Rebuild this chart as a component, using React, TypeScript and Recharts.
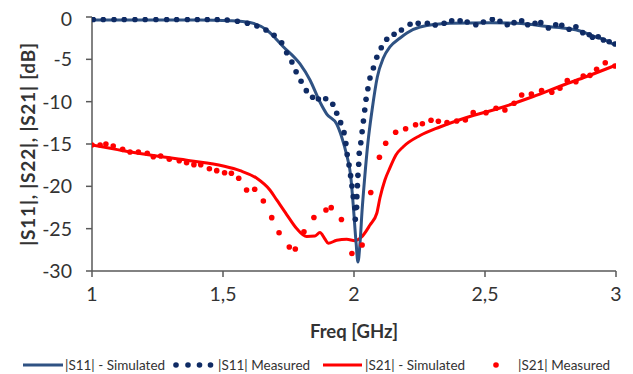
import React from "react";
import {
  ComposedChart,
  Line,
  Scatter,
  XAxis,
  YAxis,
  Legend,
  Label,
} from "recharts";

// ---------- data ----------
const xTicks = [1, 1.5, 2, 2.5, 3];
const yTicks = [-30, -25, -20, -15, -10, -5, 0];

const seriesNames = [
  "|S11| - Simulated",
  "|S11| Measured",
  "|S21| - Simulated",
  "|S21| Measured",
];

const s11SimX = [1.0, 1.221, 1.412, 1.527, 1.603, 1.667, 1.73, 1.794, 1.832, 1.87, 1.896, 1.934, 1.953, 1.972, 1.987, 1.997, 2.008, 2.015, 2.023, 2.031, 2.041, 2.053, 2.069, 2.089, 2.112, 2.137, 2.176, 2.202, 2.252, 2.366, 2.519, 2.622, 2.748, 2.813, 2.863, 2.912, 2.958, 2.996];
const s11SimY = [-0.35, -0.35, -0.35, -0.44, -0.65, -1.54, -3.51, -5.55, -7.44, -10.04, -11.46, -12.64, -14.17, -16.3, -18.66, -22.2, -26.69, -28.94, -26.69, -22.79, -18.9, -14.88, -10.98, -7.09, -4.84, -3.54, -2.48, -1.89, -1.18, -0.74, -0.67, -0.74, -1.15, -1.36, -1.65, -2.24, -2.72, -3.31];

const s11MeasX = [1.005, 1.043, 1.084, 1.123, 1.164, 1.203, 1.244, 1.285, 1.323, 1.364, 1.402, 1.44, 1.478, 1.516, 1.555, 1.593, 1.629, 1.664, 1.695, 1.724, 1.743, 1.763, 1.779, 1.798, 1.818, 1.842, 1.864, 1.892, 1.919, 1.934, 1.949, 1.962, 1.969, 1.974, 1.981, 1.987, 1.992, 1.997, 2.003, 2.005, 2.01, 2.011, 2.013, 2.015, 2.018, 2.02, 2.026, 2.031, 2.036, 2.041, 2.046, 2.053, 2.061, 2.074, 2.087, 2.104, 2.125, 2.153, 2.181, 2.214, 2.245, 2.28, 2.31, 2.344, 2.373, 2.405, 2.432, 2.465, 2.494, 2.528, 2.557, 2.585, 2.611, 2.64, 2.663, 2.691, 2.713, 2.742, 2.77, 2.793, 2.821, 2.847, 2.873, 2.898, 2.91, 2.932, 2.952, 2.974, 2.996];
const s11MeasY = [-0.3, -0.3, -0.3, -0.3, -0.3, -0.3, -0.3, -0.3, -0.3, -0.3, -0.3, -0.3, -0.3, -0.35, -0.51, -0.74, -1.06, -1.54, -2.16, -3.04, -4.22, -5.31, -6.46, -7.59, -8.7, -9.48, -9.68, -9.65, -10.31, -11.37, -12.48, -13.66, -14.94, -16.24, -17.48, -18.74, -19.96, -21.22, -22.56, -23.89, -22.48, -21.22, -19.92, -18.7, -17.4, -16.1, -14.85, -13.55, -12.28, -10.98, -9.72, -8.47, -7.2, -6.02, -4.76, -3.63, -2.63, -2.04, -1.54, -0.86, -0.74, -0.74, -0.94, -0.74, -0.44, -0.44, -0.59, -0.91, -0.59, -0.27, -0.51, -0.91, -0.67, -0.44, -0.91, -0.74, -0.67, -1.3, -0.91, -0.98, -1.45, -1.15, -1.85, -2.09, -2.4, -2.33, -2.72, -2.92, -3.19];

const s21SimX = [1.0, 1.119, 1.247, 1.374, 1.501, 1.565, 1.629, 1.679, 1.705, 1.743, 1.781, 1.819, 1.851, 1.87, 1.889, 1.902, 1.934, 1.972, 2.004, 2.029, 2.061, 2.087, 2.099, 2.118, 2.137, 2.16, 2.188, 2.252, 2.328, 2.43, 2.557, 2.684, 2.799, 2.888, 2.996];
const s21SimY = [-15.12, -15.79, -16.42, -16.97, -17.6, -18.15, -19.05, -20.43, -21.61, -23.33, -24.98, -25.92, -25.87, -25.45, -26.22, -26.73, -26.37, -26.26, -26.42, -25.98, -24.57, -23.18, -21.38, -19.25, -17.83, -16.3, -15.32, -14.0, -12.99, -11.87, -10.75, -9.39, -8.03, -7.03, -5.73];

const s21MeasX = [1.0, 1.031, 1.053, 1.081, 1.117, 1.145, 1.177, 1.211, 1.234, 1.262, 1.295, 1.333, 1.361, 1.389, 1.415, 1.448, 1.476, 1.506, 1.532, 1.56, 1.59, 1.621, 1.654, 1.686, 1.714, 1.753, 1.776, 1.809, 1.847, 1.893, 1.913, 1.952, 1.992, 2.031, 2.064, 2.097, 2.121, 2.159, 2.197, 2.235, 2.261, 2.294, 2.322, 2.355, 2.392, 2.425, 2.455, 2.504, 2.542, 2.576, 2.611, 2.64, 2.677, 2.716, 2.755, 2.786, 2.814, 2.847, 2.875, 2.901, 2.926, 2.959, 2.996];
const s21MeasY = [-15.12, -15.12, -15.0, -15.24, -15.63, -15.94, -15.94, -16.1, -16.5, -16.42, -16.81, -16.97, -17.21, -17.44, -17.44, -17.92, -18.15, -18.39, -18.46, -19.05, -20.43, -20.35, -21.73, -23.7, -25.48, -27.16, -27.4, -25.36, -23.68, -22.79, -22.52, -23.92, -27.93, -26.93, -20.73, -16.56, -14.92, -13.62, -13.19, -12.73, -12.6, -12.19, -12.31, -12.46, -12.28, -12.17, -11.3, -11.3, -10.78, -10.98, -10.19, -9.21, -9.09, -8.7, -8.89, -8.42, -7.52, -7.64, -6.97, -6.89, -6.18, -5.4, -5.79];

const zip = (xs: number[], ys: number[]) => xs.map((x, i) => ({ x, y: ys[i] }));
const s11Sim = zip(s11SimX, s11SimY);
const s11Meas = zip(s11MeasX, s11MeasY);
const s21Sim = zip(s21SimX, s21SimY);
const s21Meas = zip(s21MeasX, s21MeasY);

// ---------- styles ----------
const BLUE_LINE = "#2F5283";
const BLUE_DOT = "#0F2B64";
const RED = "#FF0000";
const AXIS = "#595959";
const TEXT = "#333333";
const FONT = "Lato, 'Open Sans', sans-serif";

const dot = (color: string) => (props: any) => (
  <circle cx={props.cx} cy={props.cy} r={2.8} fill={color} />
);

const fmt = (v: number) => String(v).replace(".", ",");

const LegendContent = () => (
  <svg width={625} height={20} style={{ fontFamily: FONT }}>
    <line x1={15} y1={10} x2={55} y2={10} stroke={BLUE_LINE} strokeWidth={3} />
    <text x={57} y={10} dominantBaseline="central" fontSize={13.5} fill={TEXT}>{seriesNames[0]}</text>
    {[168, 180, 191.5, 202.5].map((cx) => (
      <circle key={cx} cx={cx} cy={10} r={2.8} fill={BLUE_DOT} />
    ))}
    <text x={210} y={10} dominantBaseline="central" fontSize={13.5} fill={TEXT}>{seriesNames[1]}</text>
    <line x1={315} y1={10} x2={354} y2={10} stroke={RED} strokeWidth={3} />
    <text x={357} y={10} dominantBaseline="central" fontSize={13.5} fill={TEXT}>{seriesNames[2]}</text>
    <circle cx={488} cy={10} r={2.8} fill={RED} />
    <text x={510} y={10} dominantBaseline="central" fontSize={13.5} fill={TEXT}>{seriesNames[3]}</text>
  </svg>
);

export default function App() {
  return (
    <ComposedChart
      width={625}
      height={366}
      margin={{ top: 9, right: 17, bottom: 33, left: 24 }}
      style={{ fontFamily: FONT }}
    >
      <XAxis
        dataKey="x"
        type="number"
        domain={[1, 3]}
        ticks={xTicks}
        tickFormatter={fmt}
        allowDataOverflow
        height={70}
        axisLine={{ stroke: AXIS, strokeWidth: 1.5 }}
        tickLine={{ stroke: AXIS, strokeWidth: 1.5 }}
        tickSize={6}
        tickMargin={10}
        tick={{ fontSize: 19.5, fill: TEXT, fontFamily: FONT }}
      >
        <Label
          content={() => (
            <text x={346} y={323} textAnchor="middle" dominantBaseline="central" fontSize={18.5} fontWeight="bold" fill={TEXT} fontFamily={FONT}>
              Freq [GHz]
            </text>
          )}
        />
      </XAxis>
      <YAxis
        type="number"
        domain={[-30, 0]}
        ticks={yTicks}
        allowDataOverflow
        width={60}
        axisLine={{ stroke: AXIS, strokeWidth: 1.5 }}
        tickLine={{ stroke: AXIS, strokeWidth: 1.5 }}
        tickSize={6}
        tickMargin={14}
        tick={{ fontSize: 19.5, fill: TEXT, fontFamily: FONT }}
      >
        <Label
          content={() => (
            <text x={19} y={136} transform="rotate(-90 19 136)" textAnchor="middle" dominantBaseline="central" fontSize={19} letterSpacing={0.8} fontWeight="bold" fill={TEXT} fontFamily={FONT}>
              |S11|, |S22|, |S21| [dB]
            </text>
          )}
        />
      </YAxis>
      <Legend
        verticalAlign="middle"
        layout="horizontal"
        content={LegendContent}
        wrapperStyle={{ position: "absolute", left: 0, top: 347, width: 625, height: 20 }}
      />
      <Line
        data={s21Sim}
        dataKey="y"
        name={seriesNames[2]}
        type="monotone"
        stroke={RED}
        strokeWidth={3}
        dot={false}
        isAnimationActive={false}
      />
      <Scatter
        data={s21Meas}
        dataKey="y"
        name={seriesNames[3]}
        fill={RED}
        shape={dot(RED)}
        isAnimationActive={false}
      />
      <Line
        data={s11Sim}
        dataKey="y"
        name={seriesNames[0]}
        type="monotone"
        stroke={BLUE_LINE}
        strokeWidth={3}
        dot={false}
        isAnimationActive={false}
      />
      <Scatter
        data={s11Meas}
        dataKey="y"
        name={seriesNames[1]}
        fill={BLUE_DOT}
        shape={dot(BLUE_DOT)}
        isAnimationActive={false}
      />
    </ComposedChart>
  );
}
